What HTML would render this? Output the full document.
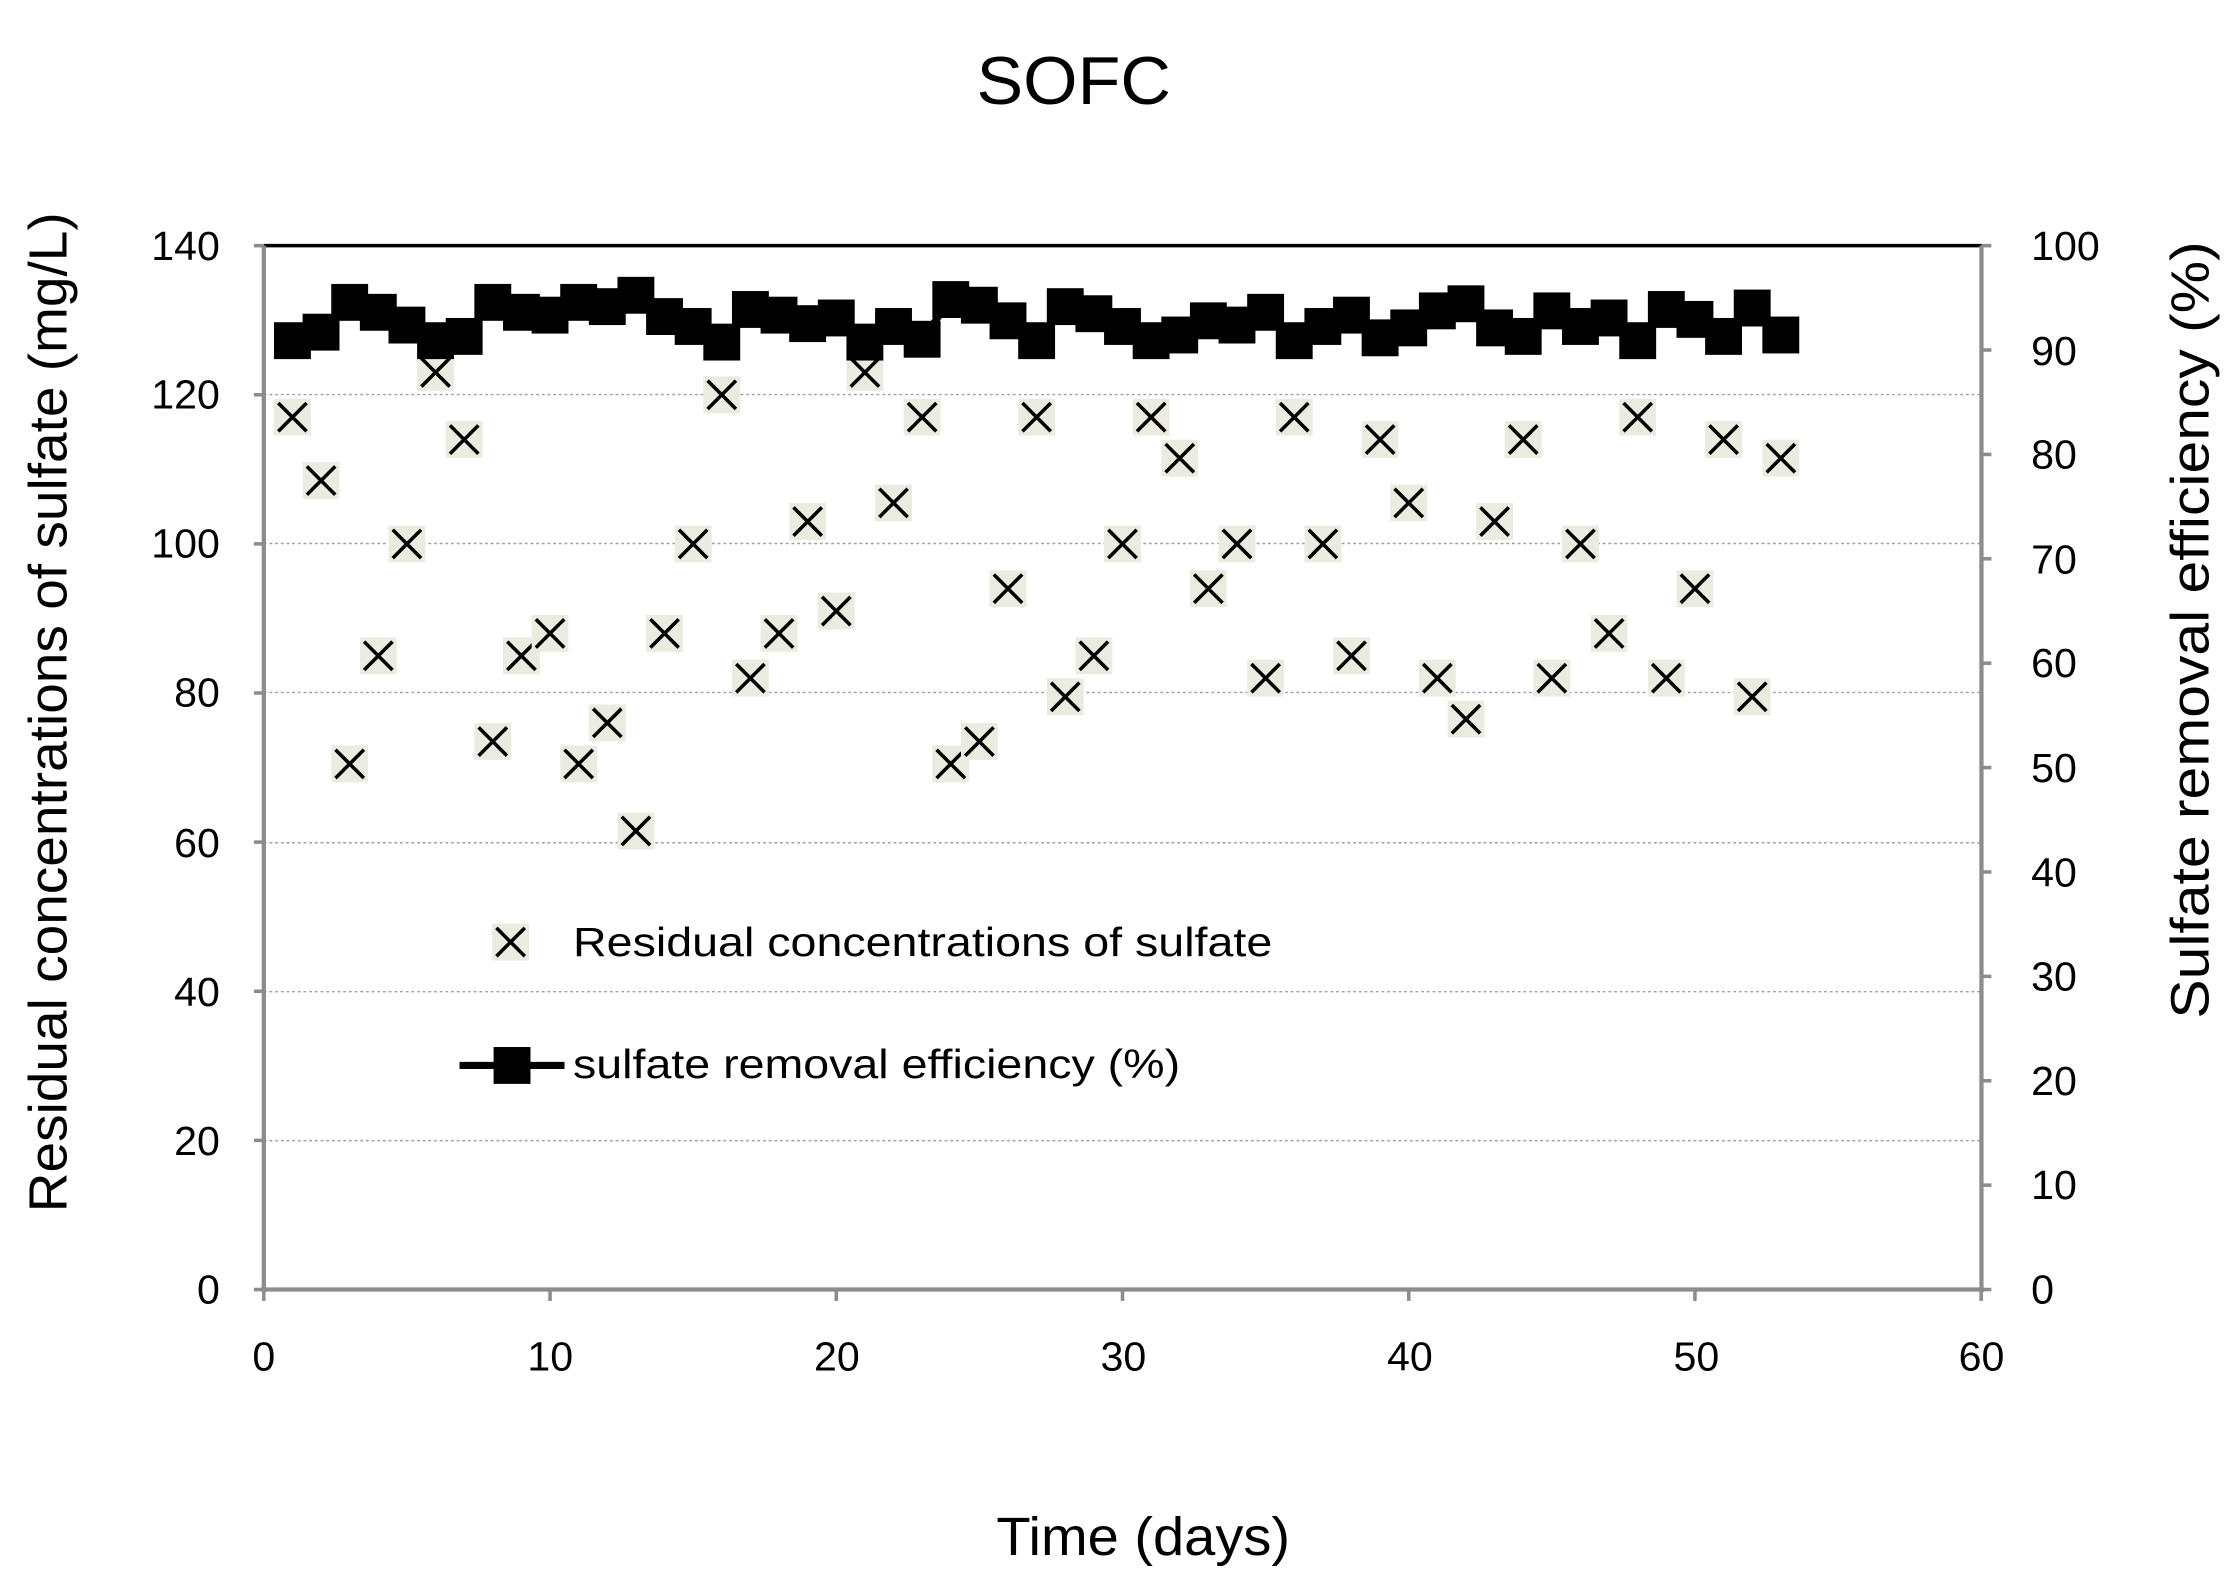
<!DOCTYPE html>
<html><head><meta charset="utf-8"><style>
html,body{margin:0;padding:0;background:#fff;}
svg{display:block;}
text{font-family:"Liberation Sans",sans-serif;fill:#000;}
</style></head><body>
<svg id="s" width="2224" height="1582" viewBox="0 0 1568 1115" xmlns="http://www.w3.org/2000/svg">
<rect width="1568" height="1115" fill="#fff"/>
<text x="757" y="73" font-size="48" textLength="137" lengthAdjust="spacingAndGlyphs" text-anchor="middle">SOFC</text>
<g stroke="#a0a0a0" stroke-width="1" stroke-dasharray="2,2">
<line x1="186" y1="278" x2="1397" y2="278"/>
<line x1="186" y1="383" x2="1397" y2="383"/>
<line x1="186" y1="488" x2="1397" y2="488"/>
<line x1="186" y1="594" x2="1397" y2="594"/>
<line x1="186" y1="699" x2="1397" y2="699"/>
<line x1="186" y1="804" x2="1397" y2="804"/>
</g>
<line x1="186" y1="173" x2="1397" y2="173" stroke="#000" stroke-width="2.5"/>
<g stroke="#8c8c8c" stroke-width="3">
<line x1="186" y1="173" x2="186" y2="911"/>
<line x1="1397" y1="173" x2="1397" y2="911"/>
<line x1="184" y1="909" x2="1399" y2="909"/>
</g>
<g id="ticks" stroke="#8c8c8c" stroke-width="2.5"></g>
<g font-size="29" text-anchor="end">
<text x="155" y="183">140</text><text x="155" y="288">120</text><text x="155" y="393">100</text>
<text x="155" y="498">80</text><text x="155" y="604">60</text><text x="155" y="709">40</text>
<text x="155" y="814">20</text><text x="155" y="919">0</text>
</g>
<g font-size="29" text-anchor="start">
<text x="1432" y="183">100</text><text x="1432" y="257">90</text><text x="1432" y="330">80</text>
<text x="1432" y="404">70</text><text x="1432" y="477">60</text><text x="1432" y="551">50</text>
<text x="1432" y="625">40</text><text x="1432" y="698">30</text><text x="1432" y="772">20</text>
<text x="1432" y="845">10</text><text x="1432" y="919">0</text>
</g>
<g font-size="29" text-anchor="middle">
<text x="186" y="966">0</text><text x="388" y="966">10</text><text x="590" y="966">20</text>
<text x="792" y="966">30</text><text x="994" y="966">40</text><text x="1196" y="966">50</text><text x="1397" y="966">60</text>
</g>
<text x="806" y="1096" font-size="38" textLength="207" lengthAdjust="spacingAndGlyphs" text-anchor="middle">Time (days)</text>
<text transform="translate(47,502) rotate(-90)" font-size="38" textLength="705" lengthAdjust="spacingAndGlyphs" text-anchor="middle">Residual concentrations of sulfate (mg/L)</text>
<text transform="translate(1557,444) rotate(-90)" font-size="38" textLength="548" lengthAdjust="spacingAndGlyphs" text-anchor="middle">Sulfate removal efficiency (%)</text>
<g id="data"></g>
<g id="leg"></g>
<text x="404" y="674" font-size="29" textLength="493" lengthAdjust="spacingAndGlyphs">Residual concentrations of sulfate</text>
<text x="404" y="760" font-size="29" textLength="428" lengthAdjust="spacingAndGlyphs">sulfate removal efficiency (%)</text>
</svg>
<script>
var NS="http://www.w3.org/2000/svg";
function el(p,t,a){var e=document.createElementNS(NS,t);for(var k in a)e.setAttribute(k,a[k]);p.appendChild(e);return e;}
var tk=document.getElementById('ticks');
for(var i=0;i<=7;i++){var y=173+i*105.14;el(tk,'line',{x1:179,y1:y,x2:186,y2:y});}
for(var i=0;i<=10;i++){var y=173+i*73.6;el(tk,'line',{x1:1397,y1:y,x2:1404,y2:y});}
for(var i=0;i<=6;i++){var x=186+i*201.8;el(tk,'line',{x1:x,y1:909,x2:x,y2:917});}
var res=[117,108.5,70.5,85,100,123,114,73.5,85,88,70.5,76,61.5,88,100,120,82,88,103,91,123,105.5,117,70.5,73.5,94,117,79.5,85,100,117,111.5,94,100,82,117,100,85,114,105.5,82,76.5,103,114,82,100,88,117,82,94,114,79.5,111.5];
var eff=[240,234,213,220,229,240,237,213,220,222,213,216,208,223,230,241,218,222,228,224,241,230,239,211,215,226,240,216,221,230,240,236,226,229,220,240,230,222,238,231,219,214,231,237,219,230,224,240,218,225,237,217,236];
var d=document.getElementById('data');
function X(g,x,y){el(g,'rect',{x:x-13,y:y-13,width:26,height:26,fill:'#ecebe0'});
el(g,'path',{d:'M'+(x-10)+' '+(y-10)+'L'+(x+10)+' '+(y+10)+'M'+(x+10)+' '+(y-10)+'L'+(x-10)+' '+(y+10),stroke:'#000','stroke-width':2.5,fill:'none'});}
for(var i=0;i<res.length;i++){X(d,186+(i+1)*20.18,909-res[i]*5.257);}
var pts=eff.map(function(y,i){return (186+(i+1)*20.18)+','+y;}).join(' ');
el(d,'polyline',{points:pts,fill:'none',stroke:'#000','stroke-width':5});
for(var i=0;i<eff.length;i++){el(d,'rect',{x:186+(i+1)*20.18-13,y:eff[i]-13,width:26,height:26,fill:'#000'});}
var lg=document.getElementById('leg');
X(lg,360,664);
el(lg,'line',{x1:324,y1:751,x2:398,y2:751,stroke:'#000','stroke-width':5});
el(lg,'rect',{x:348,y:738,width:26,height:26,fill:'#000'});
</script>
</body></html>
